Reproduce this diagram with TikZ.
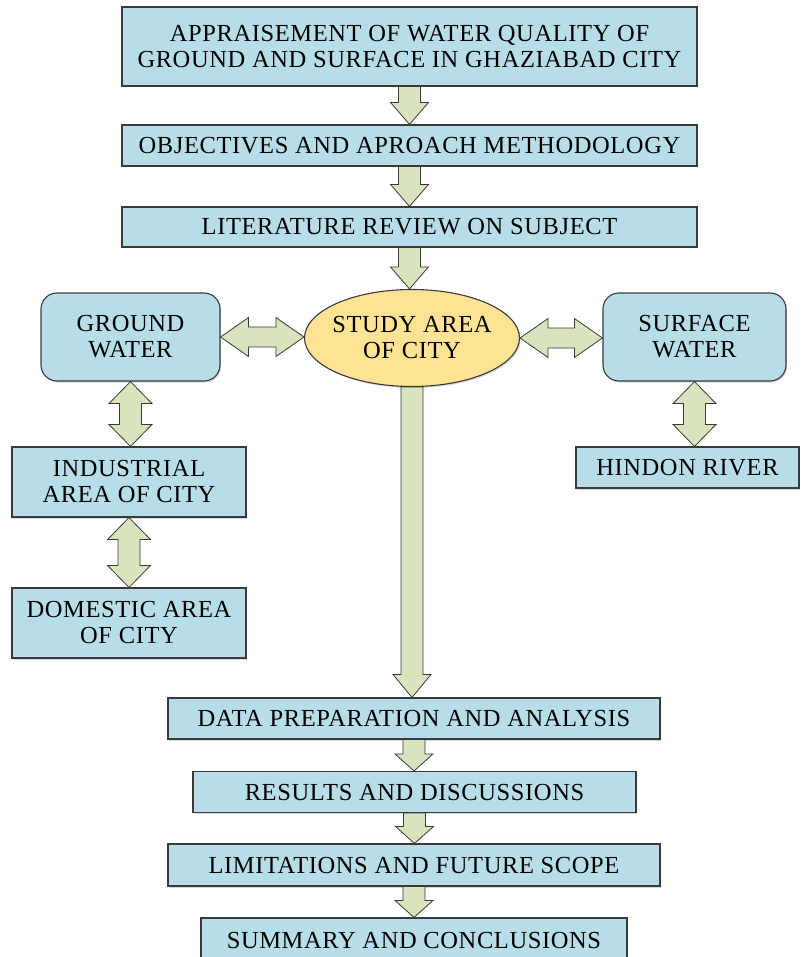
\documentclass[tikz,border=0pt]{standalone}
\usepackage{fontspec}
\setmainfont[LetterSpace=2.5]{Liberation Serif}
\usetikzlibrary{shapes.geometric,shadows,calc}

\definecolor{BoxBlue}{HTML}{B7DEE8}
\definecolor{StudyGold}{HTML}{FFE394}
\definecolor{ArrowGreen}{HTML}{D7E4BD}
\definecolor{EdgeGray}{HTML}{3A3A3A}

\tikzset{
  box/.style={draw=EdgeGray, line width=1.1pt, fill=BoxBlue, align=center,
    inner sep=0pt, font=\fontsize{24.5}{26}\selectfont,
    drop shadow={shadow xshift=1.2pt, shadow yshift=-1.5pt, opacity=0.3}},
  roundbox/.style={box, rounded corners=16pt},
  studyoval/.style={box, ellipse, fill=StudyGold, inner xsep=-10pt},
  blockarr/.style={draw=EdgeGray, line width=0.8pt, fill=ArrowGreen, line join=miter}
}

% single block arrow going down, #1 = head length
\newcommand{\blockdown}[3][20]{%
  \draw[blockarr] let \p1=(#2.south), \p2=(#3.north) in
    (\x1-11pt,\y1) -- (\x1-11pt,\y2+#1pt) -- (\x1-19pt,\y2+#1pt) -- (\x1,\y2)
    -- (\x1+19pt,\y2+#1pt) -- (\x1+11pt,\y2+#1pt) -- (\x1+11pt,\y1) -- cycle;}

% double block arrow, vertical
\newcommand{\blockboth}[2]{%
  \draw[blockarr] let \p1=(#1.south), \p2=(#2.north) in
    (\x1,\y1) -- (\x1+21.5pt,\y1-22pt) -- (\x1+11pt,\y1-22pt) -- (\x1+11pt,\y2+22pt)
    -- (\x1+21.5pt,\y2+22pt) -- (\x1,\y2) -- (\x1-21.5pt,\y2+22pt) -- (\x1-11pt,\y2+22pt)
    -- (\x1-11pt,\y1-22pt) -- (\x1-21.5pt,\y1-22pt) -- cycle;}

% double block arrow, horizontal
\newcommand{\blockside}[2]{%
  \draw[blockarr] let \p1=(#1.east), \p2=(#2.west) in
    (\x1,\y1) -- (\x1+28pt,\y1+19.5pt) -- (\x1+28pt,\y1+10pt) -- (\x2-28pt,\y1+10pt)
    -- (\x2-28pt,\y1+19.5pt) -- (\x2,\y1) -- (\x2-28pt,\y1-19.5pt) -- (\x2-28pt,\y1-10pt)
    -- (\x1+28pt,\y1-10pt) -- (\x1+28pt,\y1-19.5pt) -- cycle;}

\begin{document}
\begin{tikzpicture}[x=1pt, y=-1pt]

 \useasboundingbox (0,0) rectangle (801,957);

 %%%%%%%%%% Main chain, top %%%%%%%%%%
 \node[box, minimum width=575pt, minimum height=79pt] (title) at (409.5,46.5)
   {APPRAISEMENT OF WATER QUALITY OF\\GROUND AND SURFACE IN GHAZIABAD CITY};
 \node[box, minimum width=575pt, minimum height=41pt] (objectives) at (409.5,145.5)
   {OBJECTIVES AND APROACH METHODOLOGY};
 \node[box, minimum width=575pt, minimum height=40pt] (literature) at (409.5,227)
   {LITERATURE REVIEW ON SUBJECT};

 %%%%%%%%%% Study area and its branches %%%%%%%%%%
 \node[studyoval, minimum width=215pt, minimum height=97pt] (study) at (412,338)
   {STUDY AREA\\OF CITY};
 \node[roundbox, minimum width=179pt, minimum height=88pt] (ground) at (130.5,337)
   {GROUND\\WATER};
 \node[roundbox, minimum width=183pt, minimum height=88pt] (surface) at (694.5,337)
   {SURFACE\\WATER};
 \node[box, minimum width=234pt, minimum height=70pt] (industrial) at (129,482)
   {INDUSTRIAL\\AREA OF CITY};
 \node[box, minimum width=234pt, minimum height=70pt] (domestic) at (129,623)
   {DOMESTIC AREA\\OF CITY};
 \node[box, minimum width=223pt, minimum height=41pt] (hindon) at (687.5,467.5)
   {HINDON RIVER};

 %%%%%%%%%% Main chain, bottom %%%%%%%%%%
 \node[box, minimum width=492pt, minimum height=41pt] (data) at (414,718.5)
   {DATA PREPARATION AND ANALYSIS};
 \node[box, minimum width=443pt, minimum height=41pt] (results) at (414.5,792)
   {RESULTS AND DISCUSSIONS};
 \node[box, minimum width=492pt, minimum height=42pt] (limits) at (414,865)
   {LIMITATIONS AND FUTURE SCOPE};
 \node[box, minimum width=426pt, minimum height=44pt] (summary) at (414,940)
   {SUMMARY AND CONCLUSIONS};

 %%%%%%%%%%% Block arrows %%%%%%%%%%%
 \blockdown[22]{title}{objectives}
 \blockdown[22]{objectives}{literature}
 \blockdown[22]{literature}{study}
 \blockdown[23]{study}{data}
 \blockdown[17]{data}{results}
 \blockdown[17]{results}{limits}
 \blockdown[17]{limits}{summary}

 \blockside{ground}{study}
 \blockside{study}{surface}

 \blockboth{ground}{industrial}
 \blockboth{industrial}{domestic}
 \blockboth{surface}{hindon}

\end{tikzpicture}
\end{document}
